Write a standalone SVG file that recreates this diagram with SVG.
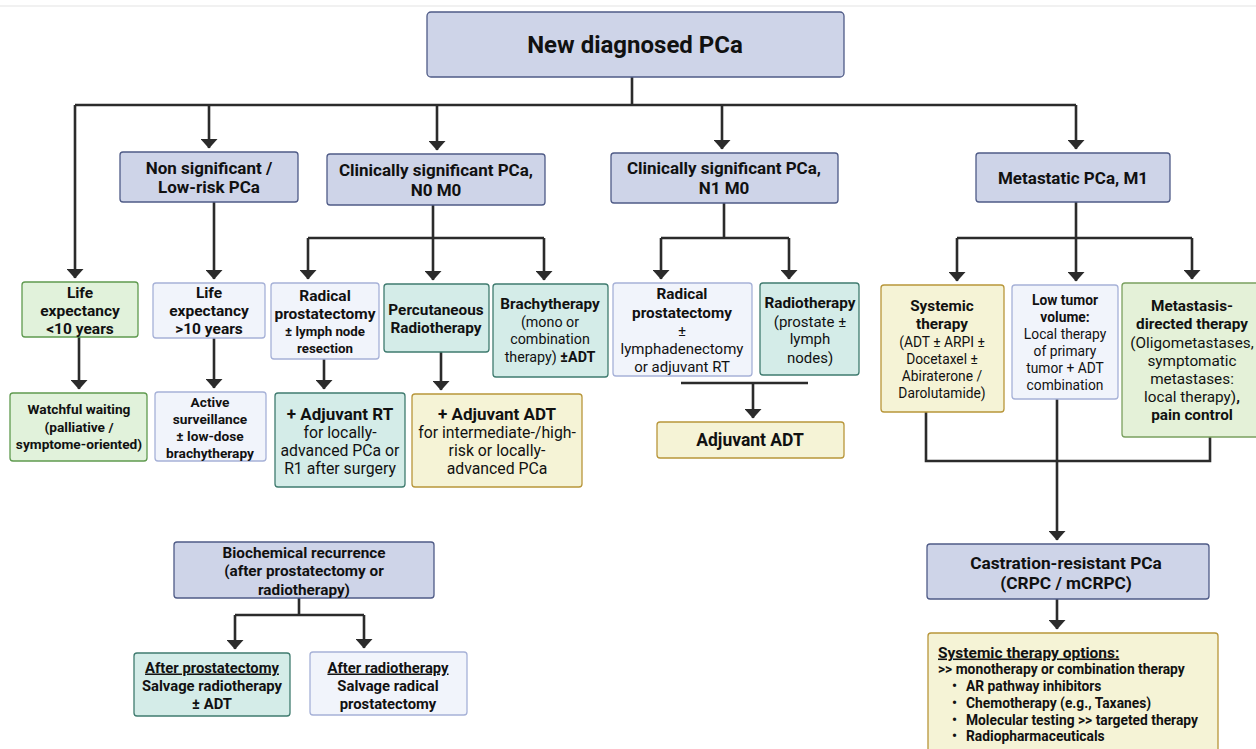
<svg xmlns="http://www.w3.org/2000/svg" width="1256" height="749" viewBox="0 0 1256 749">
<defs>
<marker id="arr" markerUnits="userSpaceOnUse" markerWidth="10" markerHeight="17" viewBox="0 0 10 17" refX="9" refY="8.5" orient="auto">
<path d="M0,0 L9.5,8.5 L0,17 z" fill="#2b2b2b"/>
</marker>
<style>
text{font-family:Roboto,"Liberation Sans",Arial,sans-serif;fill:#111;text-anchor:middle}
.b{font-weight:bold}
.s{text-anchor:start}
.hdr{fill:#ced4e8;stroke:#4f5b87;stroke-width:1.3}
.lt{fill:#f1f4fb;stroke:#a6b1d7;stroke-width:1.3}
.tl{fill:#d4ece8;stroke:#3f7b6f;stroke-width:1.3}
.gr{fill:#e1f2db;stroke:#5f9a4f;stroke-width:1.3}
.yl{fill:#f5f3d6;stroke:#b8963a;stroke-width:1.3}
.c{fill:none;stroke:#2b2b2b;stroke-width:2.6}
.a{marker-end:url(#arr)}
</style>
</defs>
<rect x="0" y="0" width="1256" height="749" fill="#ffffff"/>
<line x1="0" y1="6" x2="1256" y2="6" stroke="#ececec" stroke-width="1.5"/>

<g id="connectors">
<path class="c" d="M632,77 V105 M75,105 H1076"/>
<path class="c a" d="M75,105 V278"/>
<path class="c a" d="M209,105 V148"/>
<path class="c a" d="M437,105 V150"/>
<path class="c a" d="M722,105 V149"/>
<path class="c a" d="M1076,105 V149"/>
<path class="c a" d="M214,202 V279"/>
<path class="c" d="M433,205 V238 M308,238 H544"/>
<path class="c a" d="M308,238 V279"/>
<path class="c a" d="M433,238 V280"/>
<path class="c a" d="M544,238 V280"/>
<path class="c" d="M724,203 V238 M661,238 H789"/>
<path class="c a" d="M661,238 V279"/>
<path class="c a" d="M789,238 V279"/>
<path class="c" d="M1076,202 V238 M957,238 H1192"/>
<path class="c a" d="M957,238 V281"/>
<path class="c a" d="M1076,238 V281"/>
<path class="c a" d="M1192,238 V279"/>
<path class="c a" d="M79,337 V389"/>
<path class="c a" d="M214,338 V388"/>
<path class="c a" d="M324,359 V389"/>
<path class="c a" d="M441,352 V390"/>
<path class="c" d="M681,383 H808"/>
<path class="c a" d="M753,383 V418"/>
<path class="c" d="M926,412 V461 H1210 V437"/>
<path class="c a" d="M1057,399 V540"/>
<path class="c a" d="M1057,599 V629"/>
<path class="c" d="M299,598 V615 M235,615 H364"/>
<path class="c a" d="M235,615 V649"/>
<path class="c a" d="M364,615 V648"/>
</g>

<g id="n_new">
<rect class="hdr" x="427" y="12" width="417" height="65" rx="4"/>
<text class="b" x="635" y="52.5" font-size="24">New diagnosed PCa</text>
</g>

<g id="n_nonsig">
<rect class="hdr" x="120" y="152" width="178" height="50" rx="3"/>
<text class="b" x="209" y="174" font-size="17">Non significant /</text>
<text class="b" x="209" y="193" font-size="17">Low-risk PCa</text>
</g>

<g id="n_n0m0">
<rect class="hdr" x="327" y="154" width="218" height="51" rx="3"/>
<text class="b" x="436" y="176" font-size="17">Clinically significant PCa,</text>
<text class="b" x="436" y="196" font-size="17">N0 M0</text>
</g>

<g id="n_n1m0">
<rect class="hdr" x="611" y="153" width="227" height="50" rx="3"/>
<text class="b" x="724" y="174" font-size="17">Clinically significant PCa,</text>
<text class="b" x="724" y="194" font-size="17">N1 M0</text>
</g>

<g id="n_m1">
<rect class="hdr" x="976" y="153" width="194" height="49" rx="3"/>
<text class="b" x="1073" y="184" font-size="17">Metastatic PCa, M1</text>
</g>

<g id="n_life_lt10">
<rect class="gr" x="22" y="282" width="116" height="55" rx="3"/>
<text class="b" x="80" y="297.5" font-size="15.5">Life</text>
<text class="b" x="80" y="315.5" font-size="15.5">expectancy</text>
<text class="b" x="80" y="333.5" font-size="15.5">&lt;10 years</text>
</g>

<g id="n_life_gt10">
<rect class="lt" x="153" y="283" width="112" height="55" rx="3"/>
<text class="b" x="209" y="298" font-size="15.5">Life</text>
<text class="b" x="209" y="316" font-size="15.5">expectancy</text>
<text class="b" x="209" y="334" font-size="15.5">&gt;10 years</text>
</g>

<g id="n_radprost_n0">
<rect class="lt" x="271" y="283" width="108" height="76" rx="3"/>
<text class="b" x="325" y="300.5" font-size="15.5">Radical</text>
<text class="b" x="325" y="318.5" font-size="15.5">prostatectomy</text>
<text class="b" x="325" y="335.5" font-size="13.3">± lymph node</text>
<text class="b" x="325" y="352.5" font-size="13.3">resection</text>
</g>

<g id="n_percut">
<rect class="tl" x="384" y="284" width="105" height="68" rx="3"/>
<text class="b" x="436" y="314.5" font-size="15.3">Percutaneous</text>
<text class="b" x="436" y="332.5" font-size="15.3">Radiotherapy</text>
</g>

<g id="n_brachy">
<rect class="tl" x="493" y="284" width="115" height="93" rx="3"/>
<text class="b" x="550" y="308.5" font-size="15.3">Brachytherapy</text>
<text x="550" y="327" font-size="14.3">(mono or</text>
<text x="550" y="344" font-size="14.3">combination</text>
<text x="550" y="362" font-size="14.3">therapy) <tspan font-weight="bold">±ADT</tspan></text>
</g>

<g id="n_radprost_n1">
<rect class="lt" x="613" y="283" width="139" height="93" rx="3"/>
<text class="b" x="682" y="298.5" font-size="15.3">Radical</text>
<text class="b" x="682" y="317.5" font-size="15.3">prostatectomy</text>
<text x="682" y="335.5" font-size="15">±</text>
<text x="682" y="353.5" font-size="15">lymphadenectomy</text>
<text x="682" y="371.5" font-size="15">or adjuvant RT</text>
</g>

<g id="n_radiother">
<rect class="tl" x="760" y="283" width="99" height="92" rx="3"/>
<text class="b" x="810" y="307.5" font-size="15.3">Radiotherapy</text>
<text x="810" y="326.5" font-size="15">(prostate ±</text>
<text x="810" y="343.5" font-size="15">lymph</text>
<text x="810" y="362.5" font-size="15">nodes)</text>
</g>

<g id="n_systemic">
<rect class="yl" x="881" y="285" width="123" height="127" rx="3"/>
<text class="b" x="942" y="310.5" font-size="15.3">Systemic</text>
<text class="b" x="942" y="328.5" font-size="15.3">therapy</text>
<text x="942" y="347" font-size="13.8">(ADT ± ARPI ±</text>
<text x="942" y="363.5" font-size="13.8">Docetaxel ±</text>
<text x="942" y="380.5" font-size="13.8">Abiraterone /</text>
<text x="942" y="397.5" font-size="13.8">Darolutamide)</text>
</g>

<g id="n_lowtumor">
<rect class="lt" x="1012" y="285" width="106" height="114" rx="3"/>
<text class="b" x="1065" y="304.5" font-size="13.8">Low tumor</text>
<text class="b" x="1065" y="321.5" font-size="13.8">volume:</text>
<text x="1065" y="338.5" font-size="13.8">Local therapy</text>
<text x="1065" y="355.5" font-size="13.8">of primary</text>
<text x="1065" y="372.5" font-size="13.8">tumor + ADT</text>
<text x="1065" y="389.5" font-size="13.8">combination</text>
</g>

<g id="n_mdt">
<rect x="1122" y="283" width="140" height="154" rx="3" fill="#e4f1d8" stroke="#7aa05f" stroke-width="1.3"/>
<text class="b" x="1192" y="310.5" font-size="15.3">Metastasis-</text>
<text class="b" x="1192" y="328.5" font-size="15.3">directed therapy</text>
<text x="1192" y="347.5" font-size="15.3">(Oligometastases,</text>
<text x="1192" y="365.5" font-size="15.3">symptomatic</text>
<text x="1192" y="383.5" font-size="15.3">metastases:</text>
<text x="1192" y="401.5" font-size="15.3">local therapy)<tspan font-weight="bold">,</tspan></text>
<text class="b" x="1192" y="419.5" font-size="15.3">pain control</text>
</g>

<g id="n_watchful">
<rect class="gr" x="10" y="393" width="137" height="68" rx="3"/>
<text class="b" x="79" y="414" font-size="13.7">Watchful waiting</text>
<text class="b" x="79" y="431.5" font-size="13.7">(palliative /</text>
<text class="b" x="79" y="449" font-size="13.7">symptome-oriented)</text>
</g>

<g id="n_active">
<rect class="lt" x="155" y="392" width="111" height="69" rx="3"/>
<text class="b" x="210" y="406.5" font-size="13.7">Active</text>
<text class="b" x="210" y="423.5" font-size="13.7">surveillance</text>
<text class="b" x="210" y="440.5" font-size="13.7">± low-dose</text>
<text class="b" x="210" y="457.5" font-size="13.7">brachytherapy</text>
</g>

<g id="n_adjrt">
<rect class="tl" x="275" y="393" width="130" height="94" rx="3"/>
<text class="b" x="340" y="419.5" font-size="17">+ Adjuvant RT</text>
<text x="340" y="437.5" font-size="15.8">for locally-</text>
<text x="340" y="455.5" font-size="15.8">advanced PCa or</text>
<text x="340" y="473.5" font-size="15.8">R1 after surgery</text>
</g>

<g id="n_adjadt1">
<rect class="yl" x="412" y="394" width="170" height="93" rx="3"/>
<text class="b" x="497" y="419.5" font-size="17">+ Adjuvant ADT</text>
<text x="497" y="437.5" font-size="15.8">for intermediate-/high-</text>
<text x="497" y="455.5" font-size="15.8">risk or locally-</text>
<text x="497" y="473.5" font-size="15.8">advanced PCa</text>
</g>

<g id="n_adjadt2">
<rect class="yl" x="657" y="422" width="187" height="36" rx="3"/>
<text class="b" x="750" y="446" font-size="17.5">Adjuvant ADT</text>
</g>

<g id="n_biochem">
<rect class="hdr" x="174" y="542" width="260" height="56" rx="3"/>
<text class="b" x="304" y="557.5" font-size="15.3">Biochemical recurrence</text>
<text class="b" x="304" y="575.5" font-size="15.3">(after prostatectomy or</text>
<text class="b" x="304" y="594.5" font-size="15.3">radiotherapy)</text>
</g>

<g id="n_afterprost">
<rect class="tl" x="134" y="653" width="156" height="63" rx="3"/>
<text class="b" x="212" y="672.5" font-size="14.8" text-decoration="underline">After prostatectomy</text>
<text class="b" x="212" y="690.5" font-size="14.8">Salvage radiotherapy</text>
<text class="b" x="212" y="708.5" font-size="14.8">± ADT</text>
</g>

<g id="n_afterrt">
<rect class="lt" x="310" y="652" width="157" height="63" rx="3"/>
<text class="b" x="388" y="672.5" font-size="14.8" text-decoration="underline">After radiotherapy</text>
<text class="b" x="388" y="690.5" font-size="14.8">Salvage radical</text>
<text class="b" x="388" y="708.5" font-size="14.8">prostatectomy</text>
</g>

<g id="n_crpc">
<rect class="hdr" x="927" y="544" width="282" height="55" rx="3"/>
<text class="b" x="1066" y="568.5" font-size="17.3">Castration-resistant PCa</text>
<text class="b" x="1066" y="588.5" font-size="17.3">(CRPC / mCRPC)</text>
</g>

<g id="n_options">
<rect class="yl" x="928" y="633" width="290" height="125" rx="3"/>
<text class="b s" x="938" y="657.5" font-size="15.5" text-decoration="underline">Systemic therapy options:</text>
<text class="b s" x="938" y="674" font-size="13.8">&gt;&gt; monotherapy or combination therapy</text>
<text class="b s" x="952" y="691" font-size="13.8">•<tspan x="966">AR pathway inhibitors</tspan></text>
<text class="b s" x="952" y="707.5" font-size="13.8">•<tspan x="966">Chemotherapy (e.g., Taxanes)</tspan></text>
<text class="b s" x="952" y="724.5" font-size="13.8">•<tspan x="966">Molecular testing &gt;&gt; targeted therapy</tspan></text>
<text class="b s" x="952" y="741" font-size="13.8">•<tspan x="966">Radiopharmaceuticals</tspan></text>
</g>
</svg>
